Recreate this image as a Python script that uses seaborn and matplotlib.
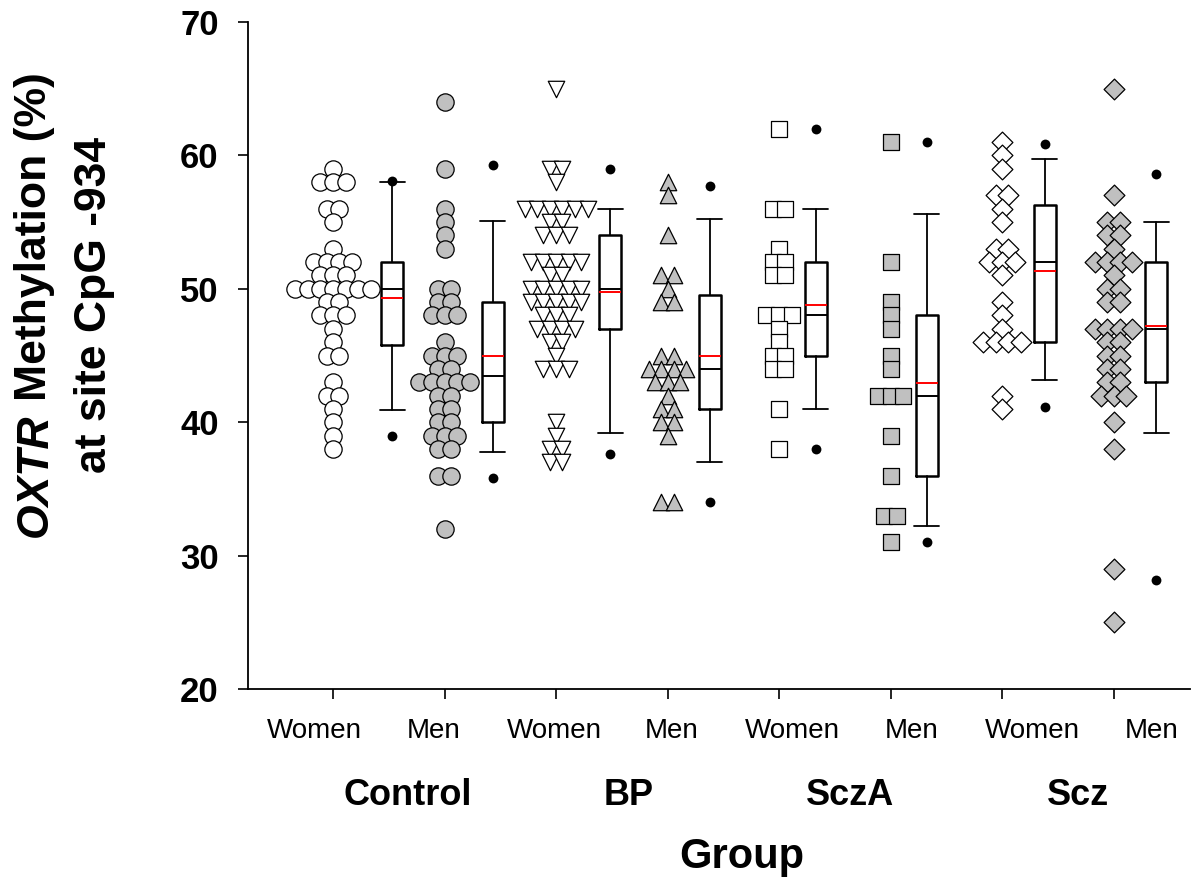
import numpy as np
import pandas as pd
import matplotlib
matplotlib.use("Agg")
import matplotlib.pyplot as plt
import seaborn as sns

# ---------------- data ----------------
groups = ["Control", "BP", "SczA", "Scz"]
sexes = ["Women", "Men"]

control_women = [59, 58, 58, 58, 56, 56, 55, 53, 52, 52, 52, 52, 51, 51, 51,
                 50, 50, 50, 50, 50, 50, 50, 49, 49, 48, 48, 48, 47, 46, 45, 45,
                 43, 42, 42, 41, 40, 39, 38]
control_men = [64, 59, 56, 55, 54, 53, 50, 50, 49, 49, 48, 48, 48, 46, 45, 45, 45,
               44, 44, 43, 43, 43, 43, 43, 42, 42, 41, 41, 40, 40, 39, 39, 39,
               38, 38, 36, 36, 32]
bp_women = [65, 59, 59, 58, 56, 56, 56, 56, 56, 56, 55, 55, 54, 54, 54, 52, 52, 52,
            52, 52, 51, 51, 50, 50, 50, 50, 50, 49, 49, 49, 49, 49, 48, 48, 48,
            47, 47, 47, 47, 46, 46, 45, 44, 44, 44, 40, 39, 38, 38, 37, 37]
bp_men = [58, 57, 54, 51, 51, 50, 49, 49, 45, 45, 44, 44, 44, 44, 43, 43, 43, 42,
          41, 41, 40, 40, 39, 34, 34]
scza_women = [62, 56, 56, 53, 52, 52, 51, 51, 48, 48, 48, 47, 46, 45, 45, 44, 44,
              41, 38]
scza_men = [61, 52, 49, 48, 47, 45, 44, 42, 42, 42, 39, 36, 33, 33, 31]
scz_women = [61, 60, 59, 57, 57, 56, 55, 53, 53, 52, 52, 52, 51, 49, 48, 47, 46,
             46, 46, 46, 42, 41]
scz_men = [65, 57, 55, 55, 54, 54, 53, 52, 52, 52, 52, 51, 50, 50, 49, 49, 47, 47,
           47, 47, 46, 46, 45, 45, 44, 44, 43, 43, 42, 42, 42, 40, 38, 29, 25]

series = [control_women, control_men, bp_women, bp_men,
          scza_women, scza_men, scz_women, scz_men]
tick_labels = ["Women", "Men", "Women", "Men", "Women", "Men", "Women", "Men"]
y_ticks = [20, 30, 40, 50, 60, 70]

# ---------------- style ----------------
sns.set_style("white")
plt.rcParams['font.family'] = ['Liberation Sans', 'DejaVu Sans']
for k in ['text.color', 'axes.labelcolor', 'xtick.color', 'ytick.color',
          'axes.edgecolor']:
    plt.rcParams[k] = 'black'

W, H = 1197, 882
fig = plt.figure(figsize=(W / 100, H / 100), dpi=100)

# axes geometry (pixels)
ax_l, ax_r, ax_t, ax_b = 248, 1190, 22, 689
ax = fig.add_axes([ax_l / W, (H - ax_b) / H, (ax_r - ax_l) / W, (ax_b - ax_t) / H])

unit_px = 111.5          # pixels per category step
first_px = 333.0         # pixel of first scatter column
def px2x(px):
    return 1 + (px - first_px) / unit_px

positions = np.arange(1, 9)
box_shift_px = [59.3, 48.4, 54.3, 42.3, 36.7, 36.2, 42.6, 42.7]
box_pos = positions + np.array(box_shift_px) / unit_px

markers = ['o', 'o', 'v', '^', 's', 's', 'D', 'D']
fills = ['white', '#c0c0c0'] * 4
sizes = [155, 155, 140, 140, 120, 120, 112, 112]
step = 12.6 / unit_px


def swarm_offsets(vals, step):
    vals = np.asarray(vals)
    off = np.zeros(len(vals))
    for v in np.unique(vals):
        idx = np.where(vals == v)[0]
        n = len(idx)
        off[idx] = (np.arange(n) - (n - 1) / 2) * step
    return off


# scatter columns
for i, vals in enumerate(series):
    df = pd.DataFrame({"x": positions[i] + swarm_offsets(vals, step), "y": vals})
    sns.scatterplot(data=df, x="x", y="y", marker=markers[i], s=sizes[i],
                    color=fills[i], edgecolor='black', linewidth=0.9,
                    legend=False, ax=ax, zorder=3)

# box plots (SigmaPlot-style percentiles)
stats = []
p5, p95 = [], []
for vals in series:
    v = np.asarray(vals, dtype=float)
    q = np.percentile(v, [5, 10, 25, 50, 75, 90, 95], method='weibull')
    stats.append(dict(med=q[3], q1=q[2], q3=q[4], whislo=q[1], whishi=q[5],
                      mean=v.mean(), fliers=[]))
    p5.append(q[0])
    p95.append(q[6])

ax.bxp(stats, positions=box_pos, widths=22 / unit_px, capwidths=25 / unit_px,
       showmeans=True, meanline=True, showfliers=False, manage_ticks=False,
       boxprops=dict(color='black', linewidth=1.8),
       medianprops=dict(color='black', linewidth=1.4),
       meanprops=dict(color='red', linewidth=1.4, linestyle='-'),
       whiskerprops=dict(color='black', linewidth=1.3),
       capprops=dict(color='black', linewidth=1.3), zorder=2)

dots = pd.DataFrame({"x": np.concatenate([box_pos, box_pos]),
                     "y": np.concatenate([p5, p95])})
sns.scatterplot(data=dots, x="x", y="y", color='black', s=50, linewidth=0,
                legend=False, ax=ax, zorder=4)

# axes
ax.set_xlim(px2x(ax_l), px2x(ax_r))
ax.set_ylim(20, 70)
ax.set_xticks(positions)
ax.set_xticklabels([])
ax.set_yticks(y_ticks)
ax.set_yticklabels([str(t) for t in y_ticks], fontsize=25, fontweight='bold',
                   color='black')
ax.tick_params(axis='x', direction='out', length=7.2, width=1.2, bottom=True,
               color='black')
ax.tick_params(axis='y', direction='out', length=7.2, width=1.2, pad=14, left=True,
               color='black')
ax.set_xlabel("")
ax.set_ylabel("")
for s in ['top', 'right']:
    ax.spines[s].set_visible(False)
for s in ['left', 'bottom']:
    ax.spines[s].set_linewidth(1.3)
    ax.spines[s].set_color('black')


def fx(px):
    return px / W


def fy(py):
    return (H - py) / H


# category labels
label_px = [314, 434, 554, 672, 792, 912, 1032, 1152]
for lab, px in zip(tick_labels, label_px):
    fig.text(fx(px), fy(738), lab, ha='center', va='baseline', fontsize=20,
             color='black')

group_px = [407.5, 629, 850.5, 1077.5]
for g, px in zip(groups, group_px):
    fig.text(fx(px), fy(805), g, ha='center', va='baseline', fontsize=26,
             fontweight='bold', color='black')

fig.text(fx(742), fy(868), "Group", ha='center', va='baseline', fontsize=30,
         fontweight='bold', color='black')

# y label: two lines, first with italic gene name
fs_y = 32
t_a = fig.text(0, 0, "OXTR", rotation=90, fontsize=fs_y, fontweight='bold',
               fontstyle='italic', ha='center', va='bottom', color='black')
t_b = fig.text(0, 0, "Methylation (%)", rotation=90, fontsize=fs_y,
               fontweight='bold', ha='center', va='bottom', color='black')
fig.canvas.draw()
r = fig.canvas.get_renderer()
h_a = t_a.get_window_extent(r).height
h_b = t_b.get_window_extent(r).height
gap = 0.28 * fs_y * 100 / 72
total = h_a + gap + h_b
y_start = (H - 305) - total / 2
t_a.set_position((fx(35), y_start / H))
t_b.set_position((fx(35), (y_start + h_a + gap) / H))
fig.text(fx(95), fy(305), "at site CpG -934", rotation=90, fontsize=fs_y,
         fontweight='bold', ha='center', va='center', color='black')

fig.savefig("out.png", dpi=100)
